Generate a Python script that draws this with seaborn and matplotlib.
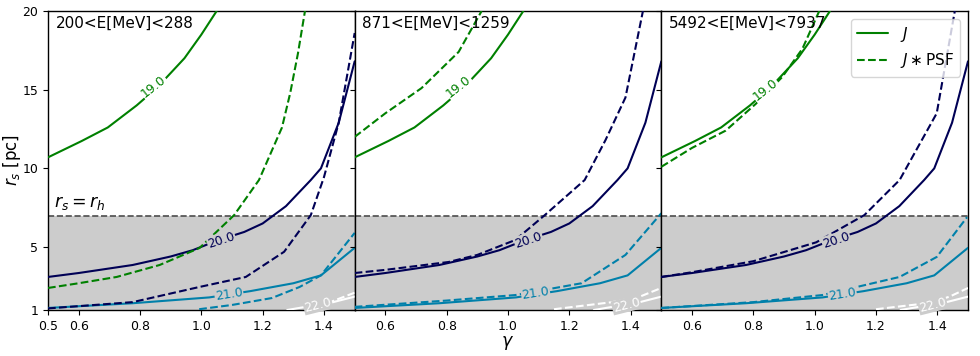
import numpy as np
import pandas as pd
import matplotlib
matplotlib.use("Agg")
import matplotlib.pyplot as plt
from matplotlib.lines import Line2D
import seaborn as sns

# ---------------- data ----------------
panel_titles = ["200<E[MeV]<288", "871<E[MeV]<1259", "5492<E[MeV]<7937"]
levels = ["19.0", "20.0", "21.0", "22.0"]
level_colors = ["#008000", "#000055", "#0080aa", "#ffffff"]

# J (no PSF) contours: identical in all panels
J19_g = [0.5, 0.61, 0.695, 0.789, 0.854, 0.902, 0.945, 1.0, 1.05]
J19_r = [10.7, 11.74, 12.6, 14.0, 15.1, 16.1, 17.0, 18.5, 20.0]
J20_g = [0.5, 0.6, 0.776, 0.9, 0.972, 1.05, 1.14, 1.2, 1.276, 1.357, 1.39, 1.448, 1.5]
J20_r = [3.1, 3.35, 3.86, 4.4, 4.8, 5.4, 5.96, 6.5, 7.6, 9.26, 10.0, 12.9, 16.8]
J21_g = [0.5, 0.776, 1.026, 1.16, 1.3, 1.39, 1.5]
J21_r = [1.13, 1.43, 1.8, 2.2, 2.7, 3.2, 4.95]
J22_g = [1.28, 1.34, 1.42, 1.5]
J22_r = [1.0, 1.2, 1.45, 1.85]

# J * PSF contours, one set per energy bin
P1_19_g = [0.5, 0.6, 0.724, 0.864, 0.994, 1.107, 1.188, 1.263, 1.29, 1.315, 1.338]
P1_19_r = [2.4, 2.7, 3.1, 3.86, 4.94, 7.03, 9.26, 12.6, 14.8, 17.3, 20.0]
P1_20_g = [0.5, 0.776, 0.993, 1.145, 1.27, 1.357, 1.40, 1.448, 1.5]
P1_20_r = [1.1, 1.5, 2.46, 3.1, 4.7, 7.03, 9.45, 12.9, 18.6]
P1_21_g = [0.993, 1.1, 1.23, 1.32, 1.39, 1.5]
P1_21_r = [1.05, 1.32, 1.76, 2.46, 3.2, 5.9]
P1_22_g = [1.34, 1.42, 1.5]
P1_22_r = [1.05, 1.5, 2.1]

P2_19_g = [0.5, 0.6, 0.718, 0.839, 0.914]
P2_19_r = [12.0, 13.5, 15.1, 17.4, 20.0]
P2_20_g = [0.5, 0.6, 0.806, 0.9, 1.024, 1.12, 1.25, 1.318, 1.383, 1.44]
P2_20_r = [3.35, 3.55, 4.05, 4.5, 5.45, 7.03, 9.26, 11.8, 14.5, 20.0]
P2_21_g = [0.5, 0.8, 1.024, 1.24, 1.383, 1.5]
P2_21_r = [1.2, 1.6, 1.95, 2.7, 4.5, 7.15]
P2_22_g = [1.15, 1.34, 1.43, 1.5]
P2_22_r = [1.05, 1.5, 1.85, 2.4]

P3_19_g = [0.5, 0.6, 0.71, 0.808, 0.894, 0.96, 1.015]
P3_19_r = [10.1, 11.3, 12.4, 14.1, 15.8, 17.6, 20.0]
P3_20_g = [0.5, 0.6, 0.8, 1.005, 1.162, 1.277, 1.398, 1.457]
P3_20_r = [3.1, 3.4, 4.1, 5.3, 7.03, 9.26, 13.5, 20.0]
P3_21_g = [0.5, 0.8, 1.025, 1.277, 1.398, 1.497]
P3_21_r = [1.13, 1.5, 1.95, 3.1, 4.37, 6.9]
P3_22_g = [1.2, 1.375, 1.44, 1.5]
P3_22_r = [1.05, 1.45, 1.85, 2.4]

J_curves = [(J19_g, J19_r), (J20_g, J20_r), (J21_g, J21_r), (J22_g, J22_r)]
PSF_curves = [
    [(P1_19_g, P1_19_r), (P1_20_g, P1_20_r), (P1_21_g, P1_21_r), (P1_22_g, P1_22_r)],
    [(P2_19_g, P2_19_r), (P2_20_g, P2_20_r), (P2_21_g, P2_21_r), (P2_22_g, P2_22_r)],
    [(P3_19_g, P3_19_r), (P3_20_g, P3_20_r), (P3_21_g, P3_21_r), (P3_22_g, P3_22_r)],
]

# contour label positions (gamma, r_s) and angles per panel
label_pos = [
    [(0.845, 15.2), (1.065, 5.45), (1.09, 2.0), (1.38, 1.32)],
    [(0.84, 15.2), (1.067, 5.45), (1.09, 2.05), (1.386, 1.32)],
    [(0.84, 15.0), (1.07, 5.45), (1.09, 2.0), (1.385, 1.32)],
]
label_rot = [38, 18, 9, 14]

r_h = 7.0
xticks_first = [0.5, 0.6, 0.8, 1.0, 1.2, 1.4]
xticks_other = [0.6, 0.8, 1.0, 1.2, 1.4]
yticks = [1, 5, 10, 15, 20]

# ---------------- figure ----------------
sns.set_style("ticks")
plt.rcParams["font.family"] = ["DejaVu Sans"]
plt.rcParams["axes.linewidth"] = 1.0
for key in ["text.color", "axes.labelcolor", "xtick.color", "ytick.color", "axes.edgecolor"]:
    plt.rcParams[key] = "black"

fig = plt.figure(figsize=(9.8, 3.56), dpi=100)
left, right, bottom, top = 48 / 980, 968 / 980, 1 - 310 / 356, 1 - 11 / 356
w = (right - left) / 3
axes = [fig.add_axes([left + i * w, bottom, w, top - bottom]) for i in range(3)]

for i, ax in enumerate(axes):
    ax.axhspan(1, r_h, color="0.8", zorder=0, lw=0)
    ax.axhline(r_h, color="0.3", ls="--", lw=1.2, zorder=1)
    for k, (g, r) in enumerate(J_curves):
        sns.lineplot(x=g, y=r, ax=ax, color=level_colors[k], lw=1.5,
                     sort=False, estimator=None, zorder=3)
    for k, (g, r) in enumerate(PSF_curves[i]):
        sns.lineplot(x=g, y=r, ax=ax, color=level_colors[k], lw=1.5,
                     linestyle="--", sort=False, estimator=None, zorder=3)
    for k, (pos, lab) in enumerate(zip(label_pos[i], levels)):
        bg = "white" if pos[1] > r_h else "0.8"
        ax.text(pos[0], pos[1], lab, color=level_colors[k], fontsize=9,
                rotation=label_rot[k], ha="center", va="center", zorder=4,
                bbox=dict(boxstyle="square,pad=0.05", fc=bg, ec="none"))
    ax.text(0.025, 0.985, panel_titles[i], transform=ax.transAxes,
            fontsize=11, ha="left", va="top", zorder=5, color="black")
    ax.set_xlim(0.5, 1.5)
    ax.set_ylim(1, 20)
    ax.set_yticks(yticks)
    ax.set_xticks(xticks_first if i == 0 else xticks_other)
    ax.tick_params(labelsize=9, colors="black")
    if i > 0:
        ax.set_yticklabels([])
    ax.set_xlabel("")
    ax.set_ylabel("")

axes[0].text(0.52, r_h + 0.25, r"$r_s = r_h$", fontsize=12.5, ha="left", va="bottom",
             color="black")
axes[0].set_ylabel(r"$r_s$ [pc]", fontsize=12, color="black")
axes[0].yaxis.set_label_coords(-0.08, 0.5)
axes[1].set_xlabel(r"$\gamma$", fontsize=12.5, labelpad=1, color="black")

handles = [Line2D([], [], color=level_colors[0], lw=1.5, ls="-"),
           Line2D([], [], color=level_colors[0], lw=1.5, ls="--")]
axes[2].legend(handles, [r"$J$", r"$J\ast$PSF"], loc="upper right", fontsize=11)

fig.savefig("out.png", dpi=100)
